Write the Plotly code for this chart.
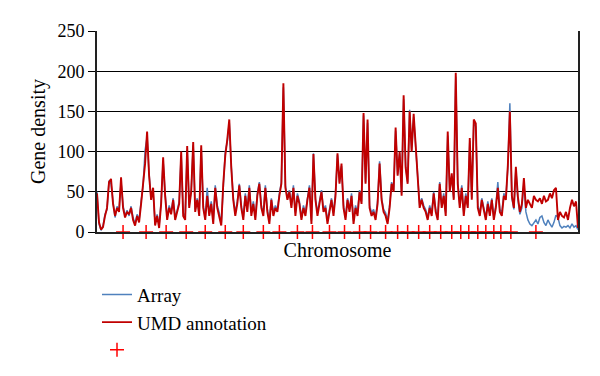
import plotly.graph_objects as go

# Gene density per genomic bin (bin index along the genome)
umd_annotation = [
    48, 12, 3, 6, 20, 30,
    62, 66, 35, 20, 30, 25,
    68, 30, 18, 25, 22, 30,
    15, 8, 20, 12, 35, 60,
    85, 125, 70, 40, 55, 8,
    20, 5, 35, 93, 45, 15,
    30, 22, 40, 15, 25, 35,
    100, 20, 15, 107, 30, 50,
    112, 25, 40, 20, 108, 30,
    15, 45, 20, 35, 10, 55,
    30, 20, 8, 60, 95, 115,
    140, 80, 40, 20, 35, 58,
    30, 15, 45, 25, 55, 20,
    35, 15, 45, 60, 30, 20,
    55, 25, 10, 40, 20, 30,
    25, 45, 60, 185, 55, 40,
    50, 30, 55, 20, 45, 35,
    15, 30, 20, 40, 55, 10,
    97, 40, 20, 35, 50, 25,
    30, 10, 25, 40, 20, 45,
    98, 60, 85, 30, 15, 40,
    25, 45, 10, 30, 20, 50,
    35, 148, 60, 140, 30, 20,
    25, 15, 35, 85, 40, 25,
    20, 10, 30, 60, 50, 130,
    70, 100, 45, 170, 80, 60,
    150, 100, 147, 110, 60, 30,
    40, 30, 25, 15, 30, 20,
    48, 25, 15, 60, 30, 45,
    20, 125, 50, 73, 40, 198,
    60, 30, 55, 20, 45, 30,
    117, 40, 140, 135, 30, 20,
    40, 25, 15, 35, 20, 40,
    15, 30, 55, 25, 20, 45,
    40, 83, 150, 45, 30, 81,
    44, 25, 35, 67, 30, 40,
    35, 30, 45, 40, 38, 42,
    35, 45, 38, 40, 48, 42,
    52, 55, 15, 25, 20, 18,
    25, 15, 30, 40, 32, 38,
    5,
]

array_density = [
    50, 10, 2, 8, 22, 28,
    64, 60, 38, 18, 32, 27,
    62, 33, 20, 27, 20, 32,
    18, 10, 22, 15, 38, 58,
    102, 118, 72, 42, 50, 10,
    22, 8, 38, 88, 48, 18,
    33, 25, 42, 18, 27, 38,
    96, 24, 18, 102, 33, 52,
    108, 28, 42, 24, 104, 33,
    18, 55, 24, 38, 14, 58,
    33, 24, 10, 62, 100, 112,
    136, 82, 42, 24, 38, 60,
    33, 18, 48, 28, 58, 24,
    38, 18, 48, 62, 33, 24,
    58, 28, 14, 42, 24, 33,
    28, 48, 62, 180, 58, 42,
    52, 33, 58, 24, 48, 38,
    18, 33, 24, 42, 58, 14,
    98, 42, 24, 38, 52, 28,
    33, 14, 28, 42, 24, 48,
    96, 62, 82, 33, 18, 42,
    28, 48, 14, 33, 24, 52,
    38, 145, 62, 136, 33, 24,
    28, 18, 38, 88, 42, 28,
    24, 14, 33, 62, 52, 126,
    72, 98, 48, 165, 82, 62,
    152, 102, 143, 108, 62, 33,
    42, 33, 28, 18, 33, 24,
    50, 28, 18, 62, 33, 48,
    24, 120, 52, 70, 42, 193,
    62, 33, 58, 24, 48, 33,
    113, 42, 136, 131, 33, 24,
    42, 28, 18, 38, 24, 42,
    18, 33, 62, 28, 24, 48,
    42, 80, 160, 42, 28, 78,
    40, 22, 30, 60, 25, 15,
    10, 8, 12, 15, 10, 18,
    20, 12, 8, 15, 10, 6,
    12, 21, 18, 8, 5, 7,
    6, 8, 5, 10, 6, 8,
    3,
]

# Chromosome boundaries (bin index)
chromosome_bounds = [13, 24.5, 34.5, 44.5, 54, 64, 73, 83, 91, 100, 107.5, 116,
                     123.5, 131, 136.5, 144, 150, 155, 160.5, 166, 171.5, 177,
                     181.5, 185.5, 190, 194, 198, 201.5, 206.5, 219]

y_ticks = [0, 50, 100, 150, 200, 250]
series_names = ["Array", "UMD annotation", ""]

bins = list(range(len(umd_annotation)))
font_family = "Liberation Serif"

fig = go.Figure()
fig.add_trace(go.Scatter(
    x=bins, y=array_density, mode="lines", name=series_names[0],
    line=dict(color="#4F81BD", width=1.5),
))
fig.add_trace(go.Scatter(
    x=bins, y=umd_annotation, mode="lines", name=series_names[1],
    line=dict(color="#C00000", width=1.9),
))
fig.add_trace(go.Scatter(
    x=chromosome_bounds, y=[0] * len(chromosome_bounds), mode="markers",
    name=series_names[2], cliponaxis=False,
    marker=dict(symbol="cross-thin", size=10, color="#FF0000",
                line=dict(color="#FF0000", width=1.5)),
))

fig.update_layout(
    width=592, height=368,
    margin=dict(l=89, r=22, t=23, b=144, autoexpand=False),
    paper_bgcolor="white", plot_bgcolor="white",
    font=dict(family=font_family, size=18, color="black"),
    showlegend=True,
    legend=dict(
        x=0.0, y=0.273, xref="paper", yref="container",
        xanchor="left", yanchor="top",
        orientation="v", font=dict(size=19, family=font_family),
        bgcolor="rgba(0,0,0,0)", tracegroupgap=0, itemwidth=30,
    ),
)
fig.update_xaxes(
    range=[0, len(umd_annotation) - 1], showticklabels=False, ticks="",
    showgrid=False, zeroline=False, showline=True, linecolor="#222",
    linewidth=1.5, mirror=False, automargin=False,
    title=dict(text="Chromosome", font=dict(size=20, family=font_family), standoff=10),
)
fig.update_yaxes(
    range=[0, 250], tickvals=y_ticks, ticks="outside", ticklen=7,
    tickcolor="black", showgrid=True, gridcolor="black", gridwidth=1,
    zeroline=False, showline=True, linecolor="#222", linewidth=2,
    mirror=True, tickfont=dict(size=18, family=font_family), automargin=False,
    title=dict(text="Gene density", font=dict(size=20, family=font_family), standoff=6),
)

fig.write_html("out.html")
